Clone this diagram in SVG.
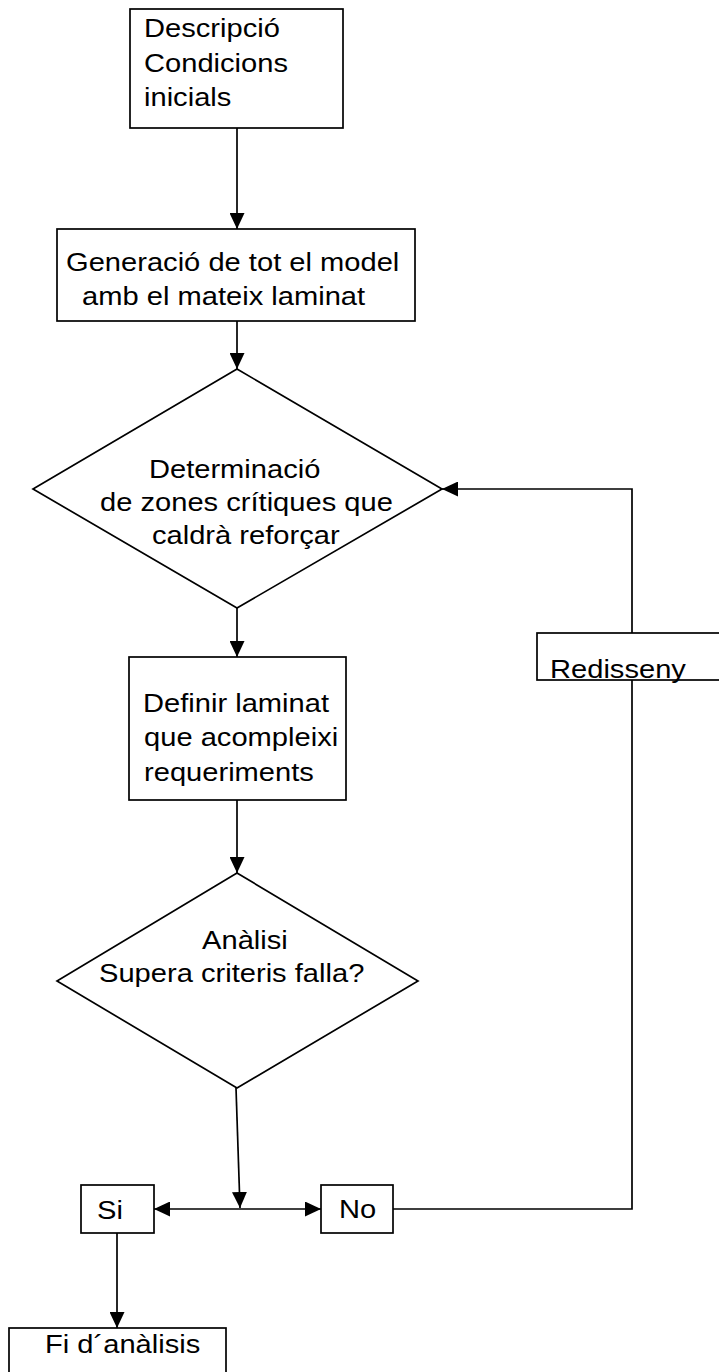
<svg xmlns="http://www.w3.org/2000/svg" width="719" height="1372" viewBox="0 0 719 1372">
<style>
.s{fill:#fff;stroke:#000;stroke-width:1.7}
.c{fill:none;stroke:#000;stroke-width:1.7}
text{font-family:"Liberation Sans",Arial,sans-serif;font-size:26px;fill:#000}
</style>
<defs>
<marker id="ah" markerUnits="userSpaceOnUse" markerWidth="16" markerHeight="15" refX="16" refY="7.5" orient="auto">
<path d="M0,0 L16,7.5 L0,15 z" fill="#000"/>
</marker>
</defs>
<rect width="719" height="1372" fill="#fff"/>
<g id="connectors">
<line class="c" x1="237" y1="128" x2="237" y2="229" marker-end="url(#ah)"/>
<line class="c" x1="237" y1="321" x2="237" y2="369" marker-end="url(#ah)"/>
<line class="c" x1="237" y1="608" x2="237" y2="657" marker-end="url(#ah)"/>
<line class="c" x1="237" y1="800" x2="237" y2="873" marker-end="url(#ah)"/>
<line class="c" x1="236" y1="1088" x2="240" y2="1208" marker-end="url(#ah)"/>
<line class="c" x1="240" y1="1209" x2="154" y2="1209" marker-end="url(#ah)"/>
<line class="c" x1="240" y1="1209" x2="321" y2="1209" marker-end="url(#ah)"/>
<polyline class="c" points="393,1209 632,1209 632,680"/>
<polyline class="c" points="632,633 632,489 442,489" marker-end="url(#ah)"/>
<line class="c" x1="117" y1="1233" x2="117" y2="1328" marker-end="url(#ah)"/>
</g>
<g id="n1">
<rect class="s" x="130" y="9" width="213" height="119"/>
<text transform="translate(144,0) scale(1.12,1)"><tspan x="0" y="37">Descripció</tspan><tspan x="0" y="72">Condicions</tspan><tspan x="0" y="106">inicials</tspan></text>
</g>
<g id="n2">
<rect class="s" x="57" y="229" width="358" height="92"/>
<text transform="translate(66,0) scale(1.12,1)"><tspan x="0" y="271">Generació de tot el model</tspan><tspan x="14.3" y="305">amb el mateix laminat</tspan></text>
</g>
<g id="n3">
<polygon class="s" points="237,369 442,489 237,608 33,489"/>
<text transform="translate(100,0) scale(1.12,1)"><tspan x="43.7" y="478">Determinació</tspan><tspan x="0" y="511">de zones crítiques que</tspan><tspan x="46.4" y="544">caldrà reforçar</tspan></text>
</g>
<g id="n4">
<rect class="s" x="129" y="657" width="217" height="143"/>
<text transform="translate(143,0) scale(1.12,1)"><tspan x="0" y="712">Definir laminat</tspan><tspan x="0.9" y="746">que acompleixi</tspan><tspan x="0.9" y="781">requeriments</tspan></text>
</g>
<g id="n5">
<polygon class="s" points="237,873 418,981 237,1088 57,981"/>
<text transform="translate(99,0) scale(1.12,1)"><tspan x="92" y="949">Anàlisi</tspan><tspan x="0" y="982">Supera criteris falla?</tspan></text>
</g>
<g id="n6">
<rect class="s" x="537" y="633" width="200" height="47"/>
<text transform="translate(550,678) scale(1.12,1)">Redisseny</text>
</g>
<g id="n7">
<rect class="s" x="81" y="1185" width="73" height="48"/>
<text transform="translate(97,1219) scale(1.12,1)">Si</text>
</g>
<g id="n8">
<rect class="s" x="321" y="1185" width="72" height="48"/>
<text transform="translate(339,1218) scale(1.12,1)">No</text>
</g>
<g id="n9">
<rect class="s" x="9" y="1328" width="217" height="60"/>
<text transform="translate(45,1353) scale(1.12,1)">Fi d´anàlisis</text>
</g>
</svg>
